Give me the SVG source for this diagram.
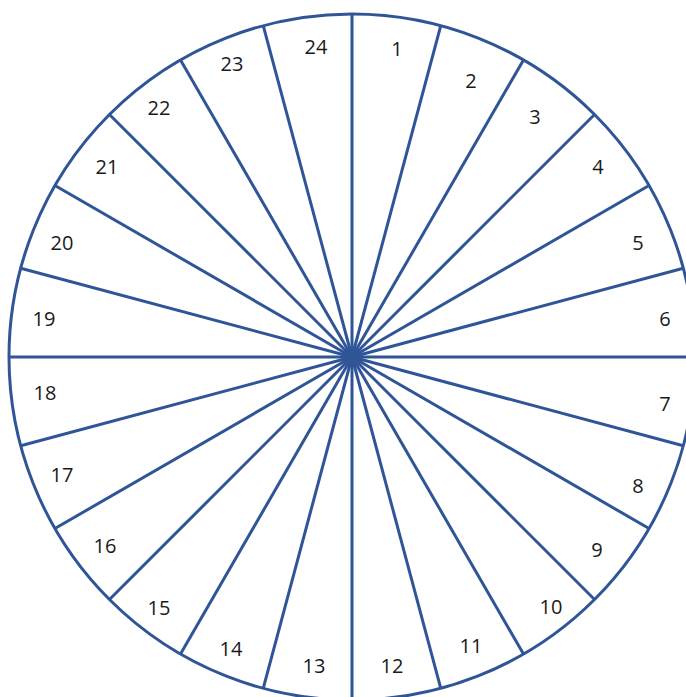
<svg xmlns="http://www.w3.org/2000/svg" xmlns:xlink="http://www.w3.org/1999/xlink" width="686" height="697" viewBox="0 0 686 697">
<style>
.rim{fill:none;stroke:#2F5597;stroke-width:3}
.spoke{stroke:#2F5597;stroke-width:3}
.lbl{font-family:"Open Sans","Liberation Sans",sans-serif;font-size:20px;fill:#1a1a1a;text-anchor:middle}
</style>
<defs>
<line id="sp" class="spoke" x1="352" y1="357" x2="352" y2="14"/>
</defs>
<rect width="686" height="697" fill="#fff"/>
<g id="wheel">
<circle class="rim" cx="352" cy="357" r="343"/>
</g>
<g id="connectors">
<use xlink:href="#sp" href="#sp" transform="rotate(0 352 357)"/>
<use xlink:href="#sp" href="#sp" transform="rotate(15 352 357)"/>
<use xlink:href="#sp" href="#sp" transform="rotate(30 352 357)"/>
<use xlink:href="#sp" href="#sp" transform="rotate(45 352 357)"/>
<use xlink:href="#sp" href="#sp" transform="rotate(60 352 357)"/>
<use xlink:href="#sp" href="#sp" transform="rotate(75 352 357)"/>
<use xlink:href="#sp" href="#sp" transform="rotate(90 352 357)"/>
<use xlink:href="#sp" href="#sp" transform="rotate(105 352 357)"/>
<use xlink:href="#sp" href="#sp" transform="rotate(120 352 357)"/>
<use xlink:href="#sp" href="#sp" transform="rotate(135 352 357)"/>
<use xlink:href="#sp" href="#sp" transform="rotate(150 352 357)"/>
<use xlink:href="#sp" href="#sp" transform="rotate(165 352 357)"/>
<use xlink:href="#sp" href="#sp" transform="rotate(180 352 357)"/>
<use xlink:href="#sp" href="#sp" transform="rotate(195 352 357)"/>
<use xlink:href="#sp" href="#sp" transform="rotate(210 352 357)"/>
<use xlink:href="#sp" href="#sp" transform="rotate(225 352 357)"/>
<use xlink:href="#sp" href="#sp" transform="rotate(240 352 357)"/>
<use xlink:href="#sp" href="#sp" transform="rotate(255 352 357)"/>
<use xlink:href="#sp" href="#sp" transform="rotate(270 352 357)"/>
<use xlink:href="#sp" href="#sp" transform="rotate(285 352 357)"/>
<use xlink:href="#sp" href="#sp" transform="rotate(300 352 357)"/>
<use xlink:href="#sp" href="#sp" transform="rotate(315 352 357)"/>
<use xlink:href="#sp" href="#sp" transform="rotate(330 352 357)"/>
<use xlink:href="#sp" href="#sp" transform="rotate(345 352 357)"/>
</g>
<g id="hub"><circle cx="352" cy="357" r="9" fill="#2F5597"/></g>
<g id="labels">
<text class="lbl" x="397" y="55.5">1</text>
<text class="lbl" x="471" y="87.5">2</text>
<text class="lbl" x="535" y="123.5">3</text>
<text class="lbl" x="598" y="173.5">4</text>
<text class="lbl" x="638" y="249.5">5</text>
<text class="lbl" x="665" y="325.5">6</text>
<text class="lbl" x="665" y="410.5">7</text>
<text class="lbl" x="638" y="492.5">8</text>
<text class="lbl" x="597" y="556.5">9</text>
<text class="lbl" x="551" y="613.5">10</text>
<text class="lbl" x="471" y="652.5">11</text>
<text class="lbl" x="392" y="672.5">12</text>
<text class="lbl" x="314" y="672.5">13</text>
<text class="lbl" x="231" y="655.5">14</text>
<text class="lbl" x="159" y="614.5">15</text>
<text class="lbl" x="105" y="552.5">16</text>
<text class="lbl" x="62" y="481.5">17</text>
<text class="lbl" x="45" y="399.5">18</text>
<text class="lbl" x="44" y="325.5">19</text>
<text class="lbl" x="62" y="249.5">20</text>
<text class="lbl" x="107" y="173.5">21</text>
<text class="lbl" x="159" y="114.5">22</text>
<text class="lbl" x="232" y="70.5">23</text>
<text class="lbl" x="316" y="53.5">24</text>
</g>
</svg>
